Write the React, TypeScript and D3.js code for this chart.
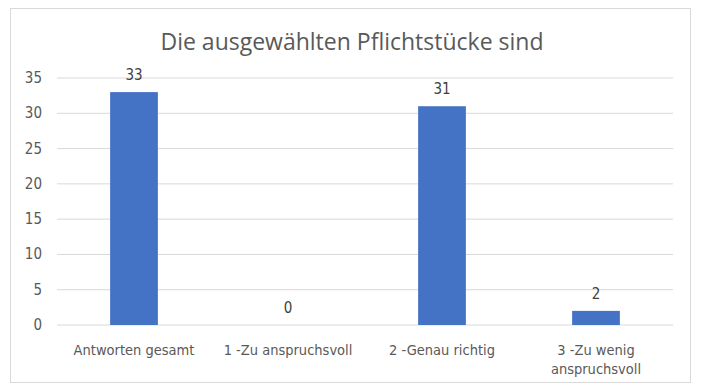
import React from "react";
import * as d3 from "d3";

const categories = ["Antworten gesamt", "1 -Zu anspruchsvoll", "2 -Genau richtig", "3 -Zu wenig anspruchsvoll"];
const categoryLines = [["Antworten gesamt"], ["1 -Zu anspruchsvoll"], ["2 -Genau richtig"], ["3 -Zu wenig", "anspruchsvoll"]];
const values = [33, 0, 31, 2];
const yTicks = [0, 5, 10, 15, 20, 25, 30, 35];
const title = "Die ausgewählten Pflichtstücke sind";

const W = 701;
const H = 389;
const left = 57;
const right = 673;
const top = 78;
const bottom = 325;
const font = "'Liberation Sans Narrow', 'DejaVu Sans Condensed', 'Open Sans', sans-serif";

export default function App() {
  const x = d3.scaleBand<string>().domain(categories).range([left, right]).paddingInner(0.69).paddingOuter(0.345);
  const y = d3.scaleLinear().domain([0, 35]).range([bottom, top]);
  return (
    <svg width={W} height={H} style={{ position: "absolute", left: 0, top: 0, background: "#fff" }}>
      <rect x={10.5} y={8.5} width={680} height={374} fill="#fff" stroke="#d9d9d9" />
      <text x={352} y={50} textAnchor="middle" fontFamily="'Open Sans', sans-serif" fontSize={23} fill="#595959">
        {title}
      </text>
      {yTicks.map((t) => (
        <g key={t}>
          <line x1={left} x2={right} y1={y(t)} y2={y(t)} stroke="#d9d9d9" strokeWidth={1} />
          <text x={42} y={y(t) + 5} textAnchor="end" fontFamily={font} fontSize={15} fill="#595959">
            {t}
          </text>
        </g>
      ))}
      {categories.map((c, i) => (
        <g key={c}>
          <rect x={x(c)} y={y(values[i])} width={x.bandwidth()} height={y(0) - y(values[i])} fill="#4472c4" />
          <text x={(x(c) as number) + x.bandwidth() / 2} y={y(values[i]) - 12} textAnchor="middle" fontFamily={font} fontSize={15} fill="#404040">
            {values[i]}
          </text>
          {categoryLines[i].map((ln, j) => (
            <text key={j} x={(x(c) as number) + x.bandwidth() / 2} y={355 + j * 19} textAnchor="middle" fontFamily={font} fontSize={14.5} fill="#595959">
              {ln}
            </text>
          ))}
        </g>
      ))}
    </svg>
  );
}
